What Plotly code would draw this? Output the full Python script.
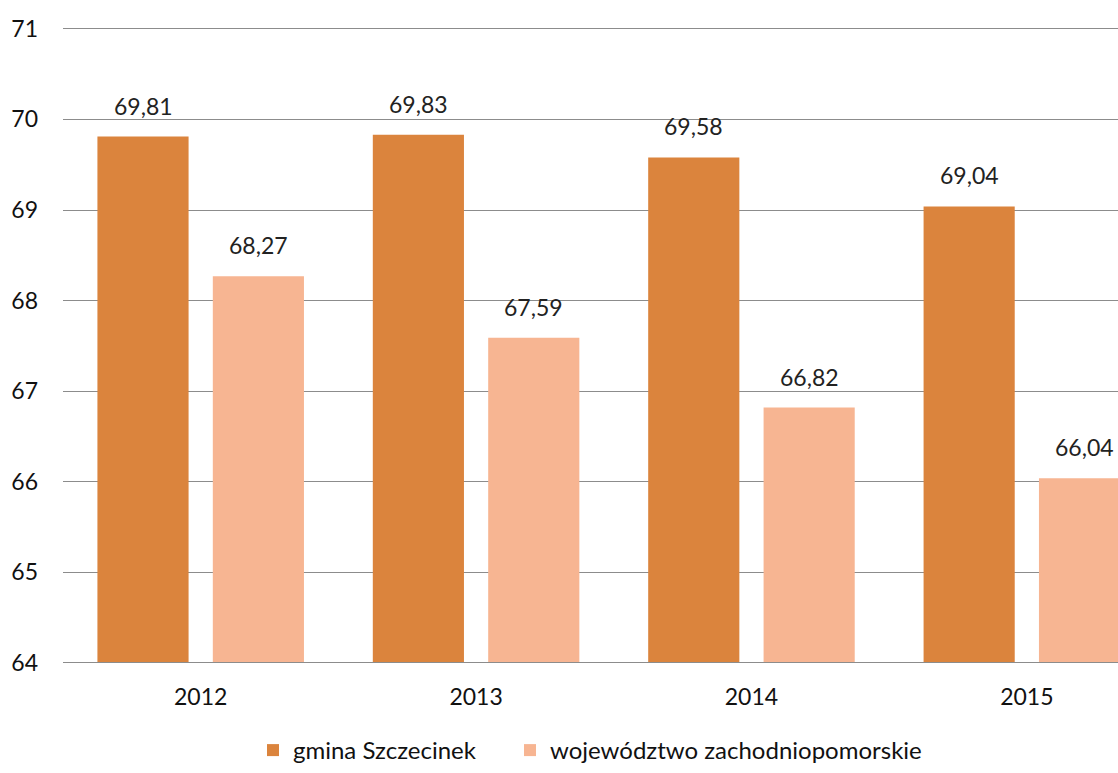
import plotly.graph_objects as go

years = ["2012", "2013", "2014", "2015"]
gmina = [69.81, 69.83, 69.58, 69.04]
woj = [68.27, 67.59, 66.82, 66.04]
names = ["gmina Szczecinek", "województwo zachodniopomorskie"]
colors = ["#DB843D", "#F7B592"]
y_ticks = [64, 65, 66, 67, 68, 69, 70, 71]

FONT = "Lato"
BW = 0.331
offsets = [-0.375, 0.044]
xs = list(range(len(years)))
legends = ["legend", "legend2"]

fig = go.Figure()
for vals, name, col, off, lg in zip([gmina, woj], names, colors, offsets, legends):
    fig.add_trace(go.Bar(
        x=xs, y=[v - 64 for v in vals], base=64, name=name,
        marker=dict(color=col, line=dict(width=0)),
        width=BW, offset=off, legend=lg, hoverinfo="skip",
    ))
    for xi, v in zip(xs, vals):
        fig.add_annotation(
            x=xi + off + BW / 2, y=v, text=f"{v:.2f}".replace(".", ","),
            showarrow=False, yanchor="bottom", yshift=15,
            font=dict(family=FONT, size=23, color="#222222"),
        )

leg_font = dict(family=FONT, size=24, color="#111111")
fig.update_layout(
    width=1118, height=773,
    margin=dict(l=63, r=0, t=27, b=94),
    paper_bgcolor="white", plot_bgcolor="white",
    barmode="overlay",
    font=dict(family=FONT, size=21, color="#111111"),
    showlegend=True,
    legend=dict(orientation="h", x=(253 - 63) / 1055, xanchor="left", y=-0.138, yanchor="middle",
                font=leg_font, bgcolor="rgba(0,0,0,0)"),
    legend2=dict(orientation="h", x=(510 - 63) / 1055, xanchor="left", y=-0.138, yanchor="middle",
                 font=leg_font, bgcolor="rgba(0,0,0,0)"),
    xaxis=dict(range=[-0.5, 3.331], tickvals=xs, ticktext=years,
               showgrid=False, zeroline=False, showline=False, ticks="",
               ticklabelstandoff=18, tickfont=dict(family=FONT, size=23, color="#111111")),
    yaxis=dict(range=[64, 71.02], tickvals=y_ticks, showgrid=True, gridcolor="#8C8C8C",
               gridwidth=1, zeroline=False, showline=False, ticks="",
               ticklabelstandoff=24, tickfont=dict(family=FONT, size=23, color="#111111")),
)
fig.add_shape(type="line", xref="paper", yref="y", x0=0, x1=1, y0=64, y1=64,
              line=dict(color="#8C8C8C", width=2))

fig.write_html("out.html", post_script="document.body.style.margin='0';",
               config={"displayModeBar": False})
